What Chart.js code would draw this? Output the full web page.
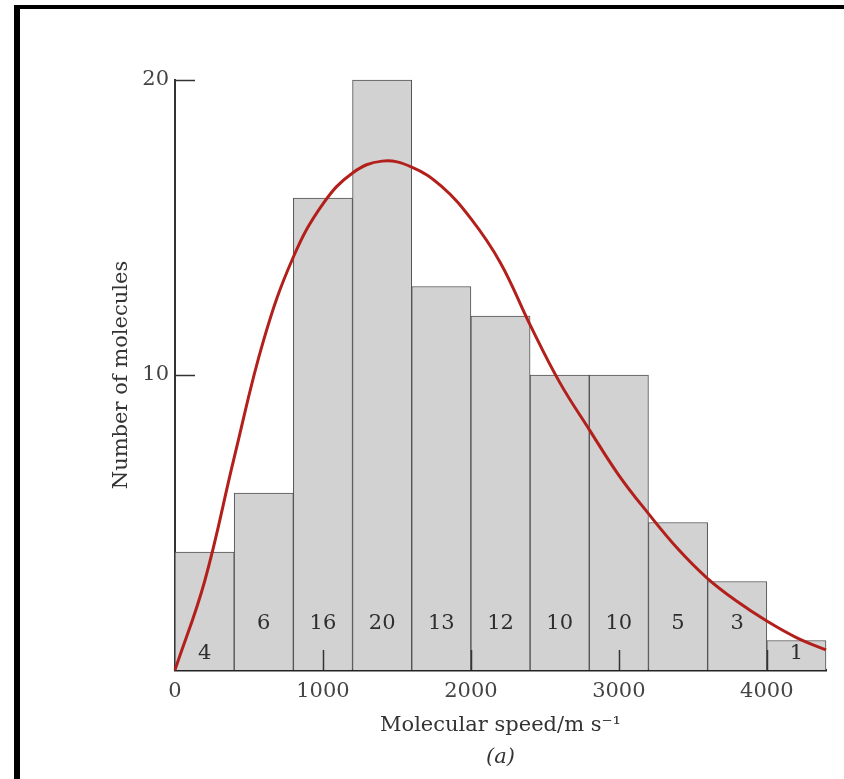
<!DOCTYPE html>
<html>
<head>
<meta charset="utf-8">
<script src="https://cdn.jsdelivr.net/npm/chart.js@4.4.1/dist/chart.umd.min.js"></script>
<style>
html,body{margin:0;padding:0;background:#fff;overflow:hidden}
#wrap{position:relative;width:844px;height:779px}
canvas{display:block}
#frame{position:absolute;left:14px;top:5px;width:900px;height:900px;border-left:6px solid #000;border-top:4px solid #000;pointer-events:none}
</style>
</head>
<body>
<div id="wrap"><canvas id="c" width="844" height="779"></canvas><div id="frame"></div></div>
<script>
// ---- data ----
const binEdges = [0, 400, 800, 1200, 1600, 2000, 2400, 2800, 3200, 3600, 4000, 4400];
const counts   = [4, 6, 16, 20, 13, 12, 10, 10, 5, 3, 1];
const curveSpeed = [0, 200, 400, 600, 800, 1000, 1200, 1400, 1600, 1800, 2000, 2200, 2400, 2600, 2800, 3000, 3200, 3400, 3600, 3800, 4000, 4200, 4400, 4520];
const curveCount = [0, 3.0, 7.2, 11.2, 14.0, 15.8, 16.85, 17.25, 17.05, 16.4, 15.3, 13.8, 11.7, 9.75, 8.15, 6.6, 5.3, 4.1, 3.1, 2.32, 1.66, 1.1, 0.68, 0.45];
const xTicks = [0, 1000, 2000, 3000, 4000];
const yTicks = [10, 20];
const xTitle = 'Molecular speed/m s\u207B\u00B9';
const yTitle = 'Number of molecules';
const subTitle = '(a)';

// ---- build ----
const barData = counts.map((c, i) => ({x: (binEdges[i] + binEdges[i + 1]) / 2, y: c}));
const curveData = curveSpeed.map((s, i) => ({x: s, y: curveCount[i]}));

const FONT = "'DejaVu Serif', 'Liberation Serif', serif";
Chart.defaults.font.family = FONT;

const lowLabelBins = [0, 10];
const overlay = {
  id: 'overlay',
  afterDatasetsDraw(chart) {
    const ctx = chart.ctx, xs = chart.scales.x, ys = chart.scales.y;
    ctx.save();
    ctx.strokeStyle = '#333';
    ctx.lineWidth = 1.5;
    yTicks.forEach(v => {
      const py = Math.round(ys.getPixelForValue(v)) + 0.5;
      ctx.beginPath(); ctx.moveTo(xs.left, py); ctx.lineTo(xs.left + 20, py); ctx.stroke();
    });
    xTicks.forEach(v => {
      if (v === 0) return;
      const px = Math.round(xs.getPixelForValue(v)) + 0.5;
      ctx.beginPath(); ctx.moveTo(px, ys.bottom); ctx.lineTo(px, ys.bottom - 20); ctx.stroke();
    });
    const meta = chart.getDatasetMeta(1);
    ctx.fillStyle = '#2e2e2e';
    ctx.font = '21px ' + FONT;
    ctx.textAlign = 'center';
    ctx.textBaseline = 'middle';
    meta.data.forEach((bar, i) => {
      const yy = lowLabelBins.includes(i) ? ys.bottom - 16 : ys.bottom - 46;
      ctx.fillText(String(counts[i]), bar.x, yy);
    });
    ctx.restore();
  }
};

new Chart(document.getElementById('c'), {
  type: 'bar',
  data: {
    datasets: [
      {
        type: 'line',
        data: curveData,
        borderColor: '#b3201c',
        borderWidth: 3,
        pointRadius: 0,
        fill: false,
        tension: 0.4,
        clip: false,
        order: 1
      },
      {
        type: 'bar',
        data: barData,
        backgroundColor: '#d2d2d2',
        borderColor: '#505050',
        borderWidth: 1,
        barPercentage: 1,
        categoryPercentage: 1,
        clip: false,
        order: 2
      }
    ]
  },
  options: {
    responsive: false,
    animation: false,
    devicePixelRatio: 1,
    events: [],
    layout: {padding: {left: 0, right: 18, top: 80, bottom: 8.8}},
    plugins: {
      legend: {display: false},
      tooltip: {enabled: false},
      subtitle: {
        display: true, position: 'bottom', fullSize: false, text: subTitle,
        color: '#333', font: {size: 21, style: 'italic'}, padding: {top: 5, bottom: 0}
      }
    },
    scales: {
      x: {
        type: 'linear', min: 0, max: 4400, offset: false,
        grid: {display: false, drawTicks: false},
        border: {display: true, color: '#222', width: 2.5},
        afterBuildTicks: s => { s.ticks = xTicks.map(v => ({value: v})); },
        ticks: {padding: 9, color: '#444', font: {size: 21}, autoSkip: false, maxRotation: 0, callback: v => String(v)},
        title: {display: true, text: xTitle, color: '#333', font: {size: 21}, padding: {top: 0, bottom: 2}},
        afterFit: s => { s.height = 70; }
      },
      y: {
        type: 'linear', min: 0, max: 20,
        grid: {display: false, drawTicks: false},
        border: {display: true, color: '#333', width: 2},
        afterBuildTicks: s => { s.ticks = yTicks.map(v => ({value: v})); },
        ticks: {padding: 6, color: '#444', font: {size: 21}, callback: v => String(v)},
        title: {display: true, text: yTitle, color: '#333', font: {size: 21}, padding: {top: 109, bottom: 0}},
        afterFit: s => { s.width = 175; }
      }
    }
  },
  plugins: [overlay]
});
</script>
</body>
</html>
